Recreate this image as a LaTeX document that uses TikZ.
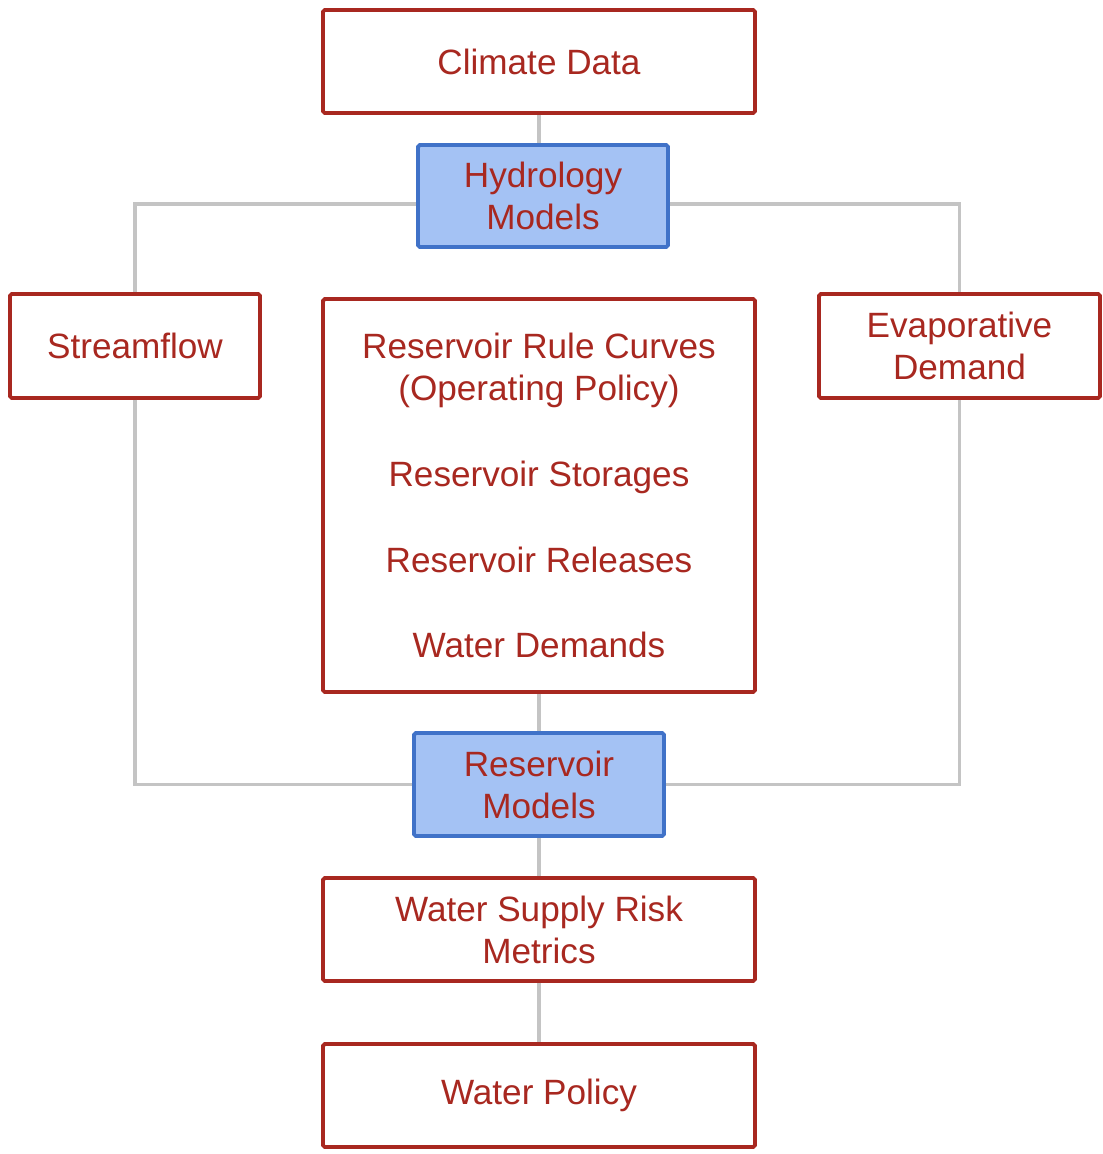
\documentclass[tikz,border=0pt]{standalone}
\usepackage{fontspec}
\setmainfont{Liberation Sans}
\usepackage{xcolor}
\usetikzlibrary{positioning}
\definecolor{boxred}{RGB}{168,40,32}
\definecolor{boxblue}{RGB}{164,194,244}
\definecolor{edgeblue}{RGB}{64,114,200}
\definecolor{linegray}{RGB}{196,196,196}
\begin{document}
\begin{tikzpicture}[
	box/.style={draw=boxred,line width=2.2pt,rounded corners=1pt,fill=white,text=boxred,align=center,
		font=\fontsize{20}{23.9}\selectfont,inner sep=0pt},
	model/.style={box,draw=edgeblue,fill=boxblue},
	link/.style={draw=linegray,line width=2.2pt}]
	\useasboundingbox (0,0) rectangle (22.04,-23.08);
	% boxes
	\node[box,minimum width=8.64cm,minimum height=2.06cm] (cd) at (10.78,-1.23) {Climate Data};
	\node[model,minimum width=5cm,minimum height=2.04cm] (hm) at (10.86,-3.92) {Hydrology\\Models};
	\node[box,minimum width=5cm,minimum height=2.08cm] (sf) at (2.7,-6.92) {Streamflow};
	\node[box,minimum width=5.62cm,minimum height=2.08cm] (ed) at (19.19,-6.92) {Evaporative\\Demand};
	\node[box,minimum width=8.64cm,minimum height=7.86cm] (rp) at (10.78,-9.91)
		{Reservoir Rule Curves\\(Operating Policy)\\[25pt]Reservoir Storages\\[25pt]Reservoir Releases\\[25pt]Water Demands};
	\node[model,minimum width=5cm,minimum height=2.06cm] (rm) at (10.78,-15.69) {Reservoir\\Models};
	\node[box,minimum width=8.64cm,minimum height=2.06cm] (wr) at (10.78,-18.59) {Water Supply Risk\\Metrics};
	\node[box,minimum width=8.64cm,minimum height=2.06cm] (wp) at (10.78,-21.91) {Water Policy};
	% connectors
	\path[link] (cd.south) -- (cd.south |- hm.north);
	\path[link] ([yshift=-0.16cm]hm.west) -| (sf.north);
	\path[link] ([yshift=-0.16cm]hm.east) -| (ed.north);
	\path[link] (sf.south) |- (rm.west);
	\path[link] (ed.south) |- (rm.east);
	\path[link] (rp.south) -- (rm.north);
	\path[link] (rm.south) -- (wr.north);
	\path[link] (wr.south) -- (wp.north);
\end{tikzpicture}
\end{document}
